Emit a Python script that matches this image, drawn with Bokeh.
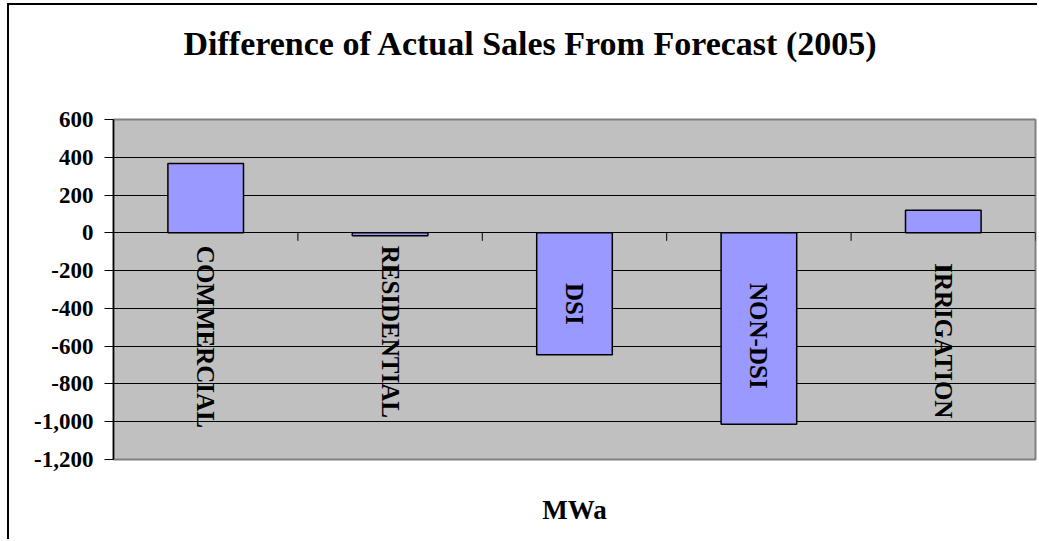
import math

from bokeh.core.properties import value
from bokeh.embed import file_html
from bokeh.models import (ColumnDataSource, FixedTicker, NumeralTickFormatter,
                          Range1d, Title)
from bokeh.plotting import figure
from bokeh.resources import INLINE

# Sales difference by customer class (MWa)
categories = ["COMMERCIAL", "RESIDENTIAL", "DSI", "NON-DSI", "IRRIGATION"]
differences = [367, -16, -645, -1013, 120]
y_ticks = [-1200, -1000, -800, -600, -400, -200, 0, 200, 400, 600]

title_text = "Difference of Actual Sales From Forecast (2005)"
unit_text = "MWa"

SERIF = "Liberation Serif"

# category label centres, measured down from the zero line (px)
label_drop = [104, 99, 71, 103, 108]

n = len(categories)
centers = [i + 0.5 for i in range(n)]

p = figure(
    width=1030, height=536,
    x_range=Range1d(0, n), y_range=Range1d(y_ticks[0], y_ticks[-1]),
    output_backend="svg", toolbar_location=None,
    min_border_left=104, min_border_right=4,
    min_border_top=114, min_border_bottom=82,
)
# chart-area border: the page is cut off on the right and bottom
p.styles = {"border-top": "2px solid black", "border-left": "2px solid black",
            "margin-left": "7px", "margin-top": "3px"}

p.background_fill_color = "#C0C0C0"
p.border_fill_color = "white"
p.outline_line_color = "#808080"
p.outline_line_width = 2

p.title.text = title_text
p.title.align = "left"
p.title.offset = 70
p.title.standoff = 10
p.title.text_font = SERIF
p.title.text_font_style = "bold"
p.title.text_font_size = "34px"
p.title.text_color = "black"

# blank panel that keeps white space between the heading and the frame
p.add_layout(Title(text=" ", text_font_size="1px", standoff=50), "above")

# value axis
p.yaxis.ticker = FixedTicker(ticks=y_ticks)
p.yaxis.formatter = NumeralTickFormatter(format="0,0")
p.yaxis.major_label_text_font = SERIF
p.yaxis.major_label_text_font_style = "bold"
p.yaxis.major_label_text_font_size = "23px"
p.yaxis.major_label_text_color = "black"
p.yaxis.major_label_standoff = 11
p.yaxis.major_tick_out = 9
p.yaxis.major_tick_in = 0
p.yaxis.minor_tick_line_color = None
p.yaxis.axis_line_color = "black"
p.yaxis.axis_line_width = 1.5
p.yaxis.major_tick_line_color = "black"

# bottom axis only carries the unit caption
p.xaxis.ticker = FixedTicker(ticks=[])
p.xaxis.axis_line_color = None
p.xaxis.major_tick_line_color = None
p.xaxis.minor_tick_line_color = None
p.xaxis.axis_label = unit_text
p.xaxis.axis_label_standoff = 35
p.xaxis.axis_label_text_font = SERIF
p.xaxis.axis_label_text_font_style = "bold"
p.xaxis.axis_label_text_font_size = "27px"
p.xaxis.axis_label_text_color = "black"

p.xgrid.grid_line_color = None
p.ygrid.ticker = FixedTicker(ticks=y_ticks[1:-1])
p.ygrid.grid_line_color = "black"
p.ygrid.grid_line_width = 1

src = ColumnDataSource(dict(x=centers, top=differences, name=categories,
                            drop=label_drop))

p.vbar(x="x", top="top", bottom=0, width=0.41, source=src,
       fill_color="#9999FF", line_color="black", line_width=1.5)

# category axis drawn along zero, with ticks between the categories
p.ray(x=list(range(1, n + 1)), y=0, length=8, length_units="screen",
      angle=-math.pi / 2, line_color="black", line_width=1)

p.text(x="x", y=0, text="name", y_offset="drop", source=src, angle=-math.pi / 2,
       text_align="center", text_baseline="middle",
       text_font=value(SERIF), text_font_style="bold",
       text_font_size="25px", text_color="black")

open("out.html", "w").write(file_html(p, INLINE))
